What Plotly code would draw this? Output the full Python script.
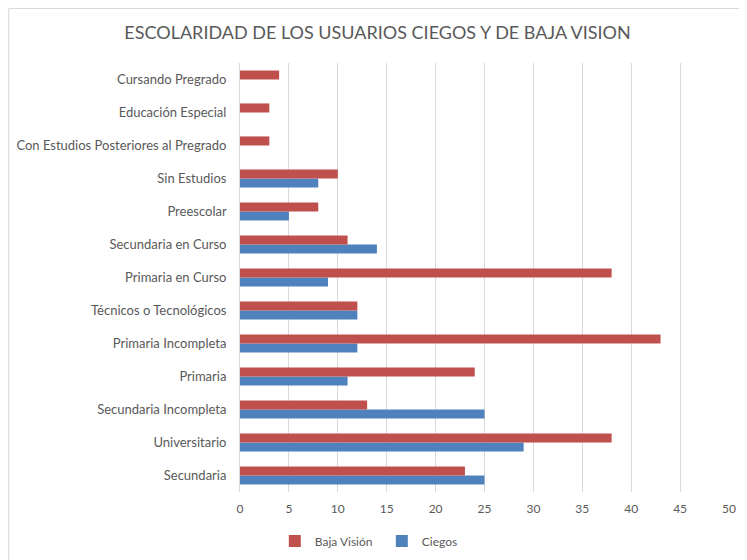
import plotly.graph_objects as go

categorias = [
    "Secundaria",
    "Universitario",
    "Secundaria Incompleta",
    "Primaria",
    "Primaria Incompleta",
    "Técnicos o Tecnológicos",
    "Primaria en Curso",
    "Secundaria en Curso",
    "Preescolar",
    "Sin Estudios",
    "Con Estudios Posteriores al Pregrado",
    "Educación Especial",
    "Cursando Pregrado",
]
baja_vision = [23, 38, 13, 24, 43, 12, 38, 11, 8, 10, 3, 3, 4]
ciegos = [25, 29, 25, 11, 12, 12, 9, 14, 5, 8, 0, 0, 0]

ROJO = "#C0504D"
AZUL = "#4F81BD"
GRIS = "#595959"

fig = go.Figure()
fig.add_trace(go.Bar(
    y=categorias, x=ciegos, name="Ciegos", orientation="h",
    marker=dict(color=AZUL, line=dict(width=0)), legendrank=2,
))
fig.add_trace(go.Bar(
    y=categorias, x=baja_vision, name="Baja Visión", orientation="h",
    marker=dict(color=ROJO, line=dict(width=0)), legendrank=1,
))

# the page body adds an 8px offset, so the figure is sized to fill the rest
fig.update_layout(
    width=739, height=552,
    paper_bgcolor="white", plot_bgcolor="white",
    font=dict(family="Lato, Open Sans, sans-serif", color=GRIS, size=13),
    margin=dict(l=232, r=18, t=55, b=68, autoexpand=False),
    title=dict(text="ESCOLARIDAD DE LOS USUARIOS CIEGOS Y DE BAJA VISION",
               x=0.5, xanchor="center", y=0.955, yanchor="middle",
               font=dict(size=18, color=GRIS)),
    barmode="group", bargap=0.45, bargroupgap=0,
    xaxis=dict(range=[0, 50], dtick=5, showgrid=True, gridcolor="#d9d9d9",
               zeroline=False, showline=False, ticks="", ticklabelstandoff=8,
               tickfont=dict(size=12), automargin=False),
    yaxis=dict(showgrid=False, showline=True, linecolor="#d9d9d9", ticks="",
               ticksuffix="   ", tickfont=dict(size=13), automargin=False),
    legend=dict(orientation="h", x=0.29, xanchor="center",
                yref="container", y=0.0344, yanchor="middle",
                entrywidth=62, entrywidthmode="pixels",
                font=dict(size=12)),
    shapes=[dict(type="rect", xref="paper", yref="paper",
                 x0=-0.473, x1=1.1, y0=-0.3, y1=1.127,
                 line=dict(color="#d9d9d9", width=1))],
)

fig.write_html("out.html")
